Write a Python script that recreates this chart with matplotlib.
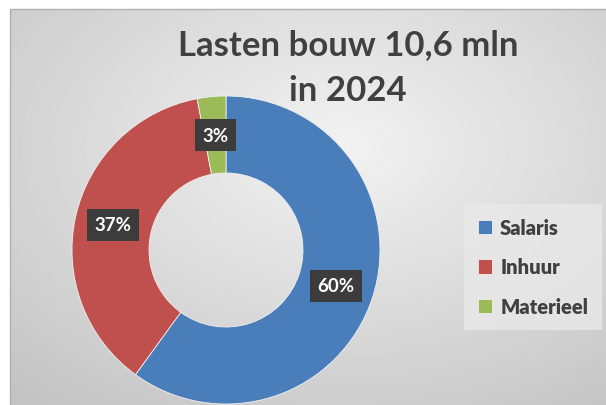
import numpy as np
import matplotlib
matplotlib.use('Agg')
import matplotlib.pyplot as plt

# data
labels = ['Salaris', 'Inhuur', 'Materieel']
values = [60, 37, 3]
colors = ['#4A7EBB', '#C0504D', '#9BBB59']
title = 'Lasten bouw 10,6 mln\nin 2024'

plt.rcParams['font.family'] = ['Lato', 'DejaVu Sans']

fig = plt.figure(figsize=(6.06, 4.06), dpi=100)
W, H = 606, 406

# grey gradient background (chart area starts a bit in from top/left)
bg = fig.add_axes([10 / W, 0, 596 / W, 396 / H])
yy, xx = np.mgrid[0:1:200j, 0:1:300j]
r = np.sqrt(((xx - 0.55) / 0.9) ** 2 + ((yy - 0.35) / 0.9) ** 2)
shade = 0.95 - 0.2 * np.clip(r, 0, 1)
bg.imshow(shade, cmap='gray', vmin=0, vmax=1, extent=[0, 1, 0, 1],
          aspect='auto', origin='upper')
bg.set_xlim(0, 1)
bg.set_ylim(0, 1)
bg.axis('off')
fig.add_artist(plt.Line2D([10 / W, 10 / W, 1], [0, 396 / H, 396 / H],
                          color='#b0b0b0', lw=1))

# donut
ax = fig.add_axes([72 / W, 1 / H, 308 / W, 308 / H])
wedges, texts, autotexts = ax.pie(
    values, colors=colors, startangle=90, counterclock=False,
    autopct='%d%%', pctdistance=0.75, radius=1,
    wedgeprops=dict(width=0.5, edgecolor='#f0f0f0', linewidth=0.6),
    textprops=dict(color='white', fontsize=13.5, fontweight='bold'))
for t in autotexts:
    t.set_bbox(dict(boxstyle='square,pad=0.4', facecolor='#3c3c3c',
                    edgecolor='none'))
ax.set_xlim(-1, 1)
ax.set_ylim(-1, 1)
ax.set_aspect('equal')
ax.axis('off')

fig.text(348 / W, 1 - 68 / H, title, ha='center', va='center',
         fontsize=25, fontweight='bold', color='#404040', linespacing=1.55)

leg = fig.legend(wedges, labels, loc='center', bbox_to_anchor=(533 / W, 1 - 268 / H),
                 frameon=True, fontsize=14.5, handlelength=0.7, handleheight=0.7,
                 handletextpad=0.4, labelspacing=1.0, borderpad=0.4,
                 borderaxespad=0)
leg.get_frame().set_facecolor('#e9e9e9')
leg.get_frame().set_edgecolor('none')
leg.get_frame().set_boxstyle('square')
for t in leg.get_texts():
    t.set_color('#404040')
    t.set_fontweight('heavy')

fig.savefig('out.png', dpi=100)
